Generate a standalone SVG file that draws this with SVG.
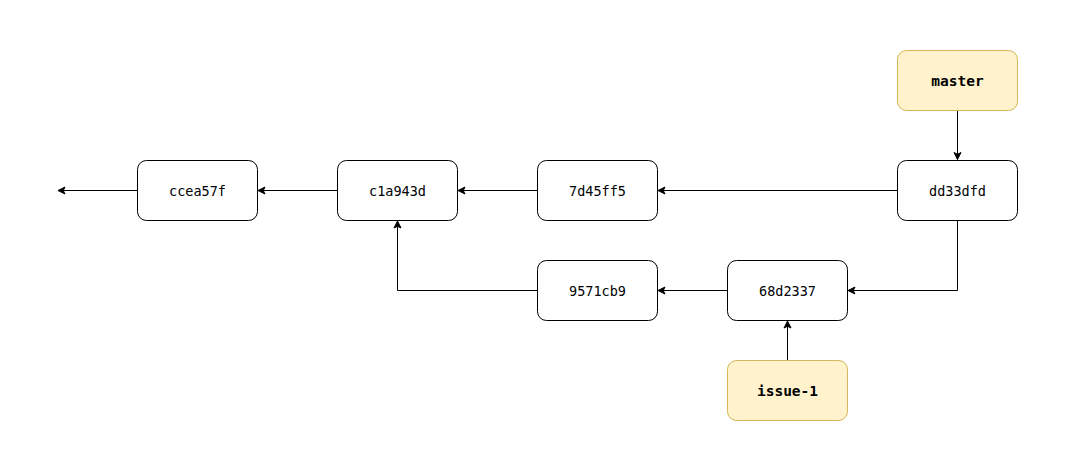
<svg xmlns="http://www.w3.org/2000/svg" width="1068" height="471" viewBox="0 0 1068 471">
<style>
.c{fill:#ffffff;stroke:#000000;stroke-width:1}
.b{fill:#fff2cc;stroke:#d6b656;stroke-width:1}
.t{font-family:"DejaVu Sans Mono","Liberation Mono",monospace;font-size:13.5px;fill:#000;text-anchor:middle;dominant-baseline:central}
.tb{font-weight:bold;font-size:14.5px}
.e{fill:none;stroke:#000;stroke-width:1}
</style>
<defs>
<marker id="a" markerUnits="userSpaceOnUse" viewBox="-8 -5 10 10" refX="0" refY="0" markerWidth="10" markerHeight="10" orient="auto" overflow="visible">
<path d="M0,0 L-7,-3.5 L-5.25,0 L-7,3.5 Z" fill="#000" stroke="#000" stroke-width="1"/>
</marker>
</defs>
<rect width="1068" height="471" fill="#ffffff"/>
<g id="edges">
<path class="e" d="M957.5,110.5 V159.5" marker-end="url(#a)"/>
<path class="e" d="M897,190.5 H658" marker-end="url(#a)"/>
<path class="e" d="M537,190.5 H458" marker-end="url(#a)"/>
<path class="e" d="M337,190.5 H258" marker-end="url(#a)"/>
<path class="e" d="M137,190.5 H58" marker-end="url(#a)"/>
<path class="e" d="M957.5,220.5 V290.5 H848" marker-end="url(#a)"/>
<path class="e" d="M727,290.5 H658" marker-end="url(#a)"/>
<path class="e" d="M537,290.5 H397.5 V221" marker-end="url(#a)"/>
<path class="e" d="M787.5,360 V321" marker-end="url(#a)"/>
</g>
<g id="master"><rect class="b" x="897.5" y="50.5" width="120" height="60" rx="9"/><text class="t tb" x="957.5" y="80.5">master</text></g>
<g id="dd33dfd"><rect class="c" x="897.5" y="160.5" width="120" height="60" rx="9"/><text class="t" x="957.5" y="190.5">dd33dfd</text></g>
<g id="7d45ff5"><rect class="c" x="537.5" y="160.5" width="120" height="60" rx="9"/><text class="t" x="597.5" y="190.5">7d45ff5</text></g>
<g id="c1a943d"><rect class="c" x="337.5" y="160.5" width="120" height="60" rx="9"/><text class="t" x="397.5" y="190.5">c1a943d</text></g>
<g id="ccea57f"><rect class="c" x="137.5" y="160.5" width="120" height="60" rx="9"/><text class="t" x="197.5" y="190.5">ccea57f</text></g>
<g id="68d2337"><rect class="c" x="727.5" y="260.5" width="120" height="60" rx="9"/><text class="t" x="787.5" y="290.5">68d2337</text></g>
<g id="9571cb9"><rect class="c" x="537.5" y="260.5" width="120" height="60" rx="9"/><text class="t" x="597.5" y="290.5">9571cb9</text></g>
<g id="issue-1"><rect class="b" x="727.5" y="360.5" width="120" height="60" rx="9"/><text class="t tb" x="787.5" y="390.5">issue-1</text></g>
</svg>
